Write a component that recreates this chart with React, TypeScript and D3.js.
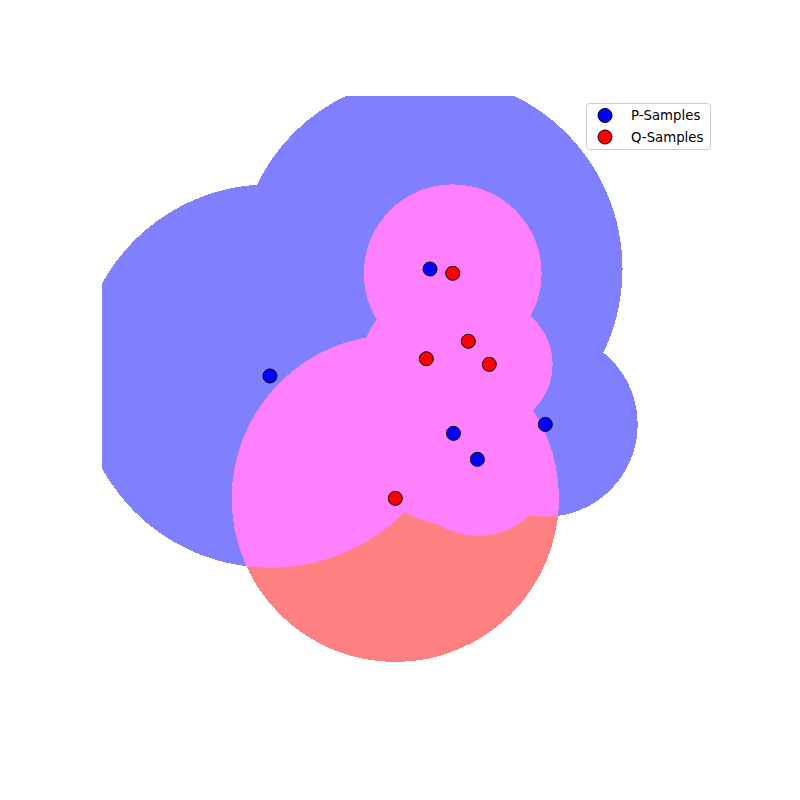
import React from 'react';
import * as d3 from 'd3';

// P-samples (blue) and their k-NN ball radii, in data units
const pX = [0.195, -1.364, 0.423, 0.656, 1.318];
const pY = [1.315, 0.273, -0.286, -0.539, -0.199];
const pR = [1.875, 1.867, 0.9, 0.745, 0.9];

// Q-samples (red)
const qX = [0.416, 0.568, 0.159, 0.772, -0.143];
const qY = [1.273, 0.611, 0.441, 0.386, -0.919];
const qR = [0.866, 0.441, 0.617, 0.617, 1.594];

const legendLabels = ['P-Samples', 'Q-Samples'];

const W = 800;
const H = 800;
const plot = { left: 102, right: 718, top: 96, bottom: 712 };

const App: React.FC = () => {
  const x = d3.scaleLinear().domain([-3, 3]).range([plot.left, plot.right]);
  const y = d3.scaleLinear().domain([-3, 3]).range([plot.bottom, plot.top]);
  const rs = (r: number) => x(r) - x(0);

  const P = pX.map((v, i) => ({ x: v, y: pY[i], r: pR[i] }));
  const Q = qX.map((v, i) => ({ x: v, y: qY[i], r: qR[i] }));

  return (
    <svg width={W} height={H} style={{ display: 'block', margin: '-8px' }} fontFamily="DejaVu Sans">
      <defs>
        <clipPath id="axes-clip">
          <rect x={plot.left} y={plot.top} width={plot.right - plot.left} height={plot.bottom - plot.top} />
        </clipPath>
        <clipPath id="p-union">
          {P.map((d, i) => (
            <circle key={i} cx={x(d.x)} cy={y(d.y)} r={rs(d.r)} />
          ))}
        </clipPath>
      </defs>
      <rect width={W} height={H} fill="#fff" />
      <g clipPath="url(#axes-clip)" shapeRendering="crispEdges">
        {P.map((d, i) => (
          <circle key={'pb' + i} cx={x(d.x)} cy={y(d.y)} r={rs(d.r)} fill="#8080ff" />
        ))}
        {Q.map((d, i) => (
          <circle key={'qb' + i} cx={x(d.x)} cy={y(d.y)} r={rs(d.r)} fill="#ff8080" />
        ))}
        <g clipPath="url(#p-union)">
          {Q.map((d, i) => (
            <circle key={'both' + i} cx={x(d.x)} cy={y(d.y)} r={rs(d.r)} fill="#ff80ff" />
          ))}
        </g>
      </g>
      {P.map((d, i) => (
        <circle key={'p' + i} cx={x(d.x)} cy={y(d.y)} r={7} fill="#0000ff" stroke="#000" strokeWidth={1} />
      ))}
      {Q.map((d, i) => (
        <circle key={'q' + i} cx={x(d.x)} cy={y(d.y)} r={7} fill="#ff0000" stroke="#000" strokeWidth={1} />
      ))}
      <g>
        <rect x={586.5} y={103.5} width={124} height={46} rx={3} fill="#fff" fillOpacity={0.8} stroke="#cccccc" />
        {legendLabels.map((t, i) => (
          <g key={t}>
            <circle cx={605} cy={115.5 + i * 21.5} r={7} fill={i === 0 ? '#0000ff' : '#ff0000'} stroke="#000" />
            <text x={631} y={115.5 + i * 21.5} dy="0.35em" fontSize={13.3} fill="#000">{t}</text>
          </g>
        ))}
      </g>
    </svg>
  );
};

export default App;
